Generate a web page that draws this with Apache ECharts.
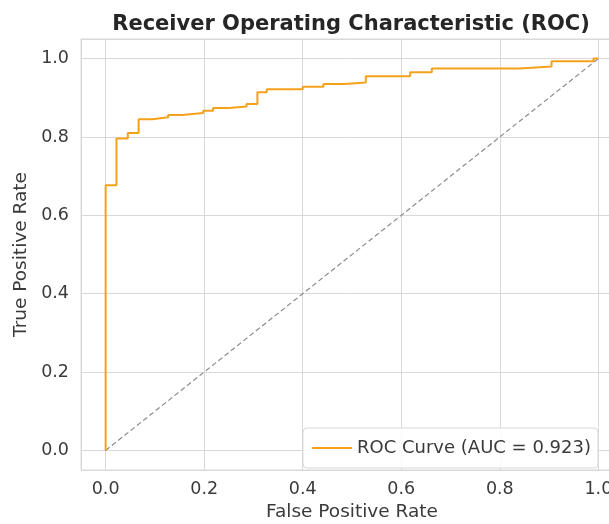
<!DOCTYPE html>
<html>
<head>
<meta charset="utf-8">
<script src="https://cdn.jsdelivr.net/npm/echarts@6/dist/echarts.min.js"></script>
<style>
  html, body { margin: 0; padding: 0; background: #ffffff; }
  #chart { width: 609px; height: 524px; }
</style>
</head>
<body>
<div id="chart"></div>
<script>
// ROC curve corner points (false positive rate, true positive rate)
const fpr = [0.000, 0.000, 0.022, 0.022, 0.045, 0.045, 0.067, 0.067, 0.095, 0.095,
             0.127, 0.127, 0.155, 0.155, 0.198, 0.198, 0.218, 0.218, 0.250, 0.250,
             0.286, 0.286, 0.308, 0.308, 0.327, 0.327, 0.400, 0.400, 0.442, 0.442,
             0.485, 0.485, 0.528, 0.528, 0.618, 0.618, 0.662, 0.662, 0.840, 0.840,
             0.905, 0.905, 0.990, 0.990, 1.000];
const tpr = [0.000, 0.677, 0.677, 0.796, 0.796, 0.810, 0.810, 0.845, 0.845, 0.850,
             0.850, 0.856, 0.856, 0.861, 0.861, 0.867, 0.867, 0.874, 0.874, 0.878,
             0.878, 0.884, 0.884, 0.914, 0.914, 0.922, 0.922, 0.928, 0.928, 0.935,
             0.935, 0.939, 0.939, 0.955, 0.955, 0.965, 0.965, 0.975, 0.975, 0.980,
             0.980, 0.993, 0.993, 1.000, 1.000];
const aucValue = 0.923;
// Chance diagonal
const chanceX = [0, 1];
const chanceY = [0, 1];

const seriesName = 'ROC Curve (AUC = ' + aucValue.toFixed(3) + ')';
const FONT = 'DejaVu Sans';
const TEXT = '#3a3a3a';
const GRID = '#d9d9d9';

const chart = echarts.init(document.getElementById('chart'), null, { renderer: 'canvas' });

chart.setOption({
  animation: false,
  backgroundColor: '#ffffff',
  title: {
    text: 'Receiver Operating Characteristic (ROC)',
    left: 346,
    top: 9,
    textAlign: 'center',
    textStyle: { fontFamily: FONT, fontSize: 21, fontWeight: 'bold', color: '#262626' }
  },
  // plot area runs past the right edge of the canvas
  grid: {
    left: 81, top: 39, width: 542, height: 431,
    outerBoundsMode: 'none', containLabel: false,
    show: true, borderColor: GRID, borderWidth: 1, backgroundColor: 'transparent'
  },
  legend: {
    left: 303, top: 428,
    data: [{ name: seriesName, icon: 'rect' }],
    itemWidth: 40, itemHeight: 2, itemGap: 0, itemTextGap: 13,
    padding: [10, 7, 10, 9],
    backgroundColor: 'rgba(255,255,255,0.85)',
    borderColor: GRID, borderWidth: 1, borderRadius: 4,
    textStyle: { fontFamily: FONT, fontSize: 18, color: TEXT, lineHeight: 20 }
  },
  xAxis: {
    type: 'value', min: -0.05, max: 1.05, splitNumber: 5,
    name: 'False Positive Rate', nameLocation: 'middle', nameGap: 33,
    nameTextStyle: { fontFamily: FONT, fontSize: 18.5, color: TEXT },
    axisLine: { show: false },
    axisTick: { show: false },
    axisLabel: {
      showMinLabel: false, showMaxLabel: false, margin: 10,
      fontFamily: FONT, fontSize: 17.5, color: TEXT,
      formatter: v => v.toFixed(1)
    },
    splitLine: { show: true, lineStyle: { color: GRID, width: 1 } }
  },
  yAxis: {
    type: 'value', min: -0.05, max: 1.05, splitNumber: 5,
    name: 'True Positive Rate', nameLocation: 'middle', nameGap: 46,
    nameTextStyle: { fontFamily: FONT, fontSize: 18.5, color: TEXT },
    axisLine: { show: false },
    axisTick: { show: false },
    axisLabel: {
      showMinLabel: false, showMaxLabel: false, margin: 12,
      fontFamily: FONT, fontSize: 17.5, color: TEXT,
      formatter: v => v.toFixed(1)
    },
    splitLine: { show: true, lineStyle: { color: GRID, width: 1 } }
  },
  series: [
    {
      name: 'chance',
      type: 'line',
      data: chanceX.map((x, i) => [x, chanceY[i]]),
      symbol: 'none',
      silent: true,
      lineStyle: { color: '#8c8c8c', width: 1.2, type: [5, 3] },
      z: 2
    },
    {
      name: seriesName,
      type: 'line',
      data: fpr.map((x, i) => [x, tpr[i]]),
      symbol: 'none',
      color: '#f5a21b',
      lineStyle: { color: '#f5a21b', width: 2 },
      z: 3
    }
  ]
});
</script>
</body>
</html>
